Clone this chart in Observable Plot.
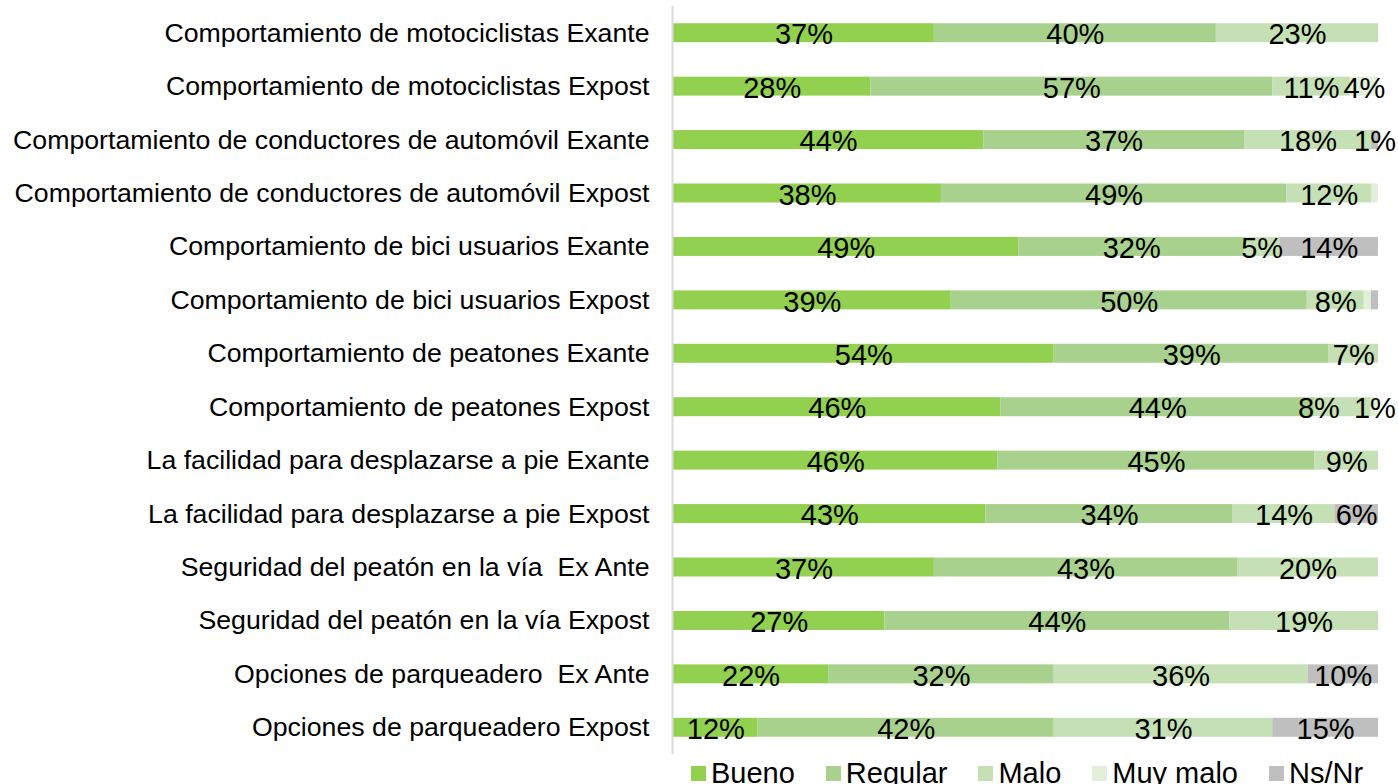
<!DOCTYPE html>
<html>
<head>
<meta charset="utf-8">
<script src="https://cdn.jsdelivr.net/npm/d3@7"></script>
<script src="https://cdn.jsdelivr.net/npm/@observablehq/plot@0.6"></script>
<style>
  html, body { margin: 0; padding: 0; background: #fff; overflow: hidden; }
  body { font-family: "Liberation Sans", Arial, sans-serif; }
  #chart svg { display: block; }
  #legend { display: flex; align-items: center; padding-left: 691px; padding-top: 4px; height: 30px; font-size: 29px; color: #000; white-space: nowrap; }
  .item { display: flex; align-items: center; margin-right: 31px; }
  .sw { width: 15px; height: 15px; margin-right: 5px; flex: none; }
</style>
</head>
<body>
<div id="chart"></div>
<div id="legend"></div>
<script>
const categories = [
  "Comportamiento de motociclistas Exante",
  "Comportamiento de motociclistas Expost",
  "Comportamiento de conductores de automóvil Exante",
  "Comportamiento de conductores de automóvil Expost",
  "Comportamiento de bici usuarios Exante",
  "Comportamiento de bici usuarios Expost",
  "Comportamiento de peatones Exante",
  "Comportamiento de peatones Expost",
  "La facilidad para desplazarse a pie Exante",
  "La facilidad para desplazarse a pie Expost",
  "Seguridad del peatón en la vía  Ex Ante",
  "Seguridad del peatón en la vía Expost",
  "Opciones de parqueadero  Ex Ante",
  "Opciones de parqueadero Expost"
];
const series = ["Bueno", "Regular", "Malo", "Muy malo", "Ns/Nr"];
const colors = ["#92d050", "#a9d18e", "#c5e0b4", "#e2f0d9", "#bfbfbf"];

// percent values per series, in category order
const bueno   = [37, 28, 44, 38, 49, 39, 54, 46, 46, 43, 37, 27, 22, 12];
const regular = [40, 57, 37, 49, 32, 50, 39, 44, 45, 34, 43, 44, 32, 42];
const malo    = [23, 11, 18, 12,  5,  8,  7,  8,  9, 14, 20, 19, 36, 31];
const muyMalo = [ 0,  4,  0,  1,  0,  1,  0,  1,  0,  0,  0,  0,  0,  0];
const nsnr    = [ 0,  0,  1,  0, 14,  1,  0,  0,  0,  6,  0,  0, 10, 15];
// labels not shown in the original (category index, series)
const hiddenLabels = [[3, "Muy malo"], [5, "Muy malo"], [5, "Ns/Nr"]];
// labels moved left in the original to avoid an overlap (category index, series)
const shiftedLabels = [[7, "Malo"]];

const seriesValues = [bueno, regular, malo, muyMalo, nsnr];
const data = [];
series.forEach((s, si) => {
  categories.forEach((c, ci) => {
    const v = seriesValues[si][ci];
    if (v > 0) {
      const hidden = hiddenLabels.some(([hc, hs]) => hc === ci && hs === s);
      const shifted = shiftedLabels.some(([hc, hs]) => hc === ci && hs === s);
      data.push({category: c, series: s, value: v, label: hidden ? "" : v + "%", shifted});
    }
  });
});

const font = "'Liberation Sans', Arial, sans-serif";
const stackOpts = {x: "value", y: "category", z: "series", offset: "normalize", order: series};

const chart = Plot.plot({
  width: 1398,
  height: 754,
  marginLeft: 673,
  marginRight: 20,
  marginTop: 6,
  marginBottom: 0,
  style: {fontFamily: font, background: "#fff", color: "#000"},
  x: {domain: [0, 1], axis: null},
  y: {domain: categories, paddingInner: 0.645, paddingOuter: 0.3225, round: false, axis: null},
  color: {domain: series, range: colors},
  marks: [
    Plot.barX(data, Plot.stackX({...stackOpts, fill: "series"})),
    Plot.text(data, Plot.stackX({...stackOpts, text: (d) => d.shifted ? "" : d.label, fontSize: 29, fill: "#000", dy: 2})),
    Plot.text(data, Plot.stackX({...stackOpts, text: (d) => d.shifted ? d.label : "", fontSize: 29, fill: "#000", dy: 2, dx: -24})),
    Plot.ruleX([0], {stroke: "#d9d9d9", strokeWidth: 2, dx: -1}),
    Plot.axisY({tickSize: 0, tickPadding: 24, fontSize: 26.7, fill: "#000", textAnchor: "end", label: null})
  ]
});
document.getElementById("chart").appendChild(chart);

const legend = document.getElementById("legend");
series.forEach((s, i) => {
  const item = document.createElement("div");
  item.className = "item";
  const sw = document.createElement("div");
  sw.className = "sw";
  sw.style.background = colors[i];
  const t = document.createElement("span");
  t.textContent = s;
  item.appendChild(sw);
  item.appendChild(t);
  legend.appendChild(item);
});
</script>
</body>
</html>
